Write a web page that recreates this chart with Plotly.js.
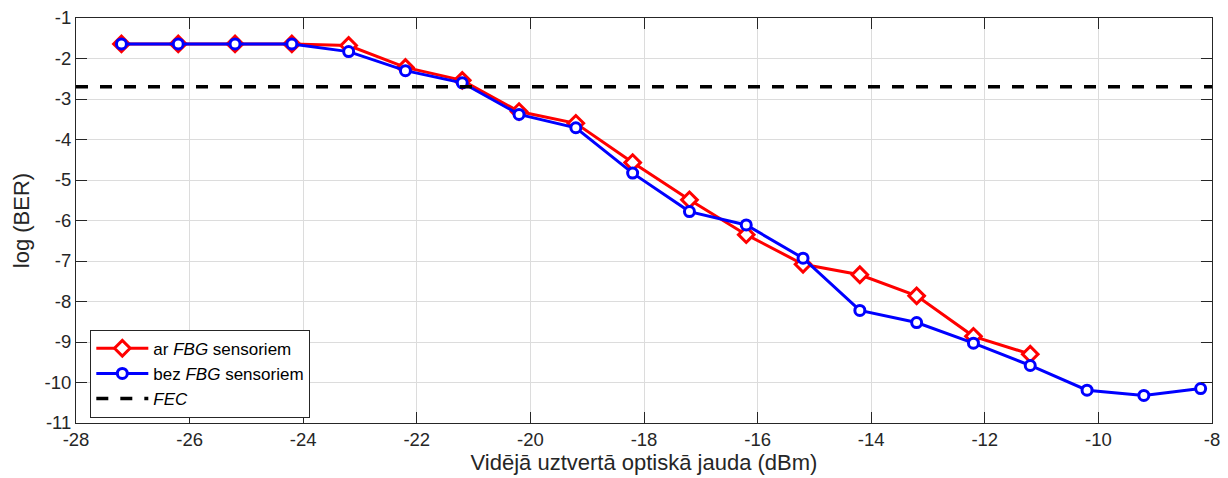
<!DOCTYPE html>
<html><head><meta charset="utf-8">
<script src="https://cdn.plot.ly/plotly-3.0.1.min.js"></script>
<style>html,body{margin:0;padding:0;background:#fff}#chart{width:1228px;height:478px}</style>
</head><body><div id="chart"></div>
<script>
const xArFBG = [-27.2,-26.2,-25.2,-24.2,-23.2,-22.2,-21.2,-20.2,-19.2,-18.2,-17.2,-16.2,-15.2,-14.2,-13.2,-12.2,-11.2];
const yArFBG = [-1.64,-1.64,-1.64,-1.64,-1.68,-2.22,-2.54,-3.31,-3.6,-4.57,-5.49,-6.35,-7.08,-7.34,-7.86,-8.86,-9.3];
const xBezFBG = [-27.2,-26.2,-25.2,-24.2,-23.2,-22.2,-21.2,-20.2,-19.2,-18.2,-17.2,-16.2,-15.2,-14.2,-13.2,-12.2,-11.2,-10.2,-9.2,-8.2];
const yBezFBG = [-1.64,-1.64,-1.64,-1.64,-1.83,-2.3,-2.6,-3.38,-3.71,-4.83,-5.78,-6.11,-6.93,-8.22,-8.52,-9.03,-9.58,-10.19,-10.32,-10.15];
const xFEC = [-28,-8];
const yFEC = [-2.7,-2.7];
const seriesNames = ['ar <i>FBG</i> sensoriem','bez <i>FBG</i> sensoriem','<i>FEC</i>'];
const xTicks = [-28,-26,-24,-22,-20,-18,-16,-14,-12,-10,-8];
const yTicks = [-11,-10,-9,-8,-7,-6,-5,-4,-3,-2,-1];

const font = {family:'Arial, "Liberation Sans", sans-serif', color:'#262626'};
const traces = [
  {x:xArFBG, y:yArFBG, name:seriesNames[0], mode:'lines+markers', type:'scatter',
   line:{color:'#ff0000', width:3},
   marker:{symbol:'diamond', size:12, color:'#ffffff', line:{color:'#ff0000', width:3}}},
  {x:xBezFBG, y:yBezFBG, name:seriesNames[1], mode:'lines+markers', type:'scatter',
   line:{color:'#0000ff', width:3},
   marker:{symbol:'circle', size:10, color:'#ffffff', line:{color:'#0000ff', width:3}}},
  {x:xFEC, y:yFEC, name:seriesNames[2], mode:'lines', type:'scatter',
   line:{color:'#000000', width:3.5, dash:'12px,12px'}}
];
const axisCommon = {showline:true, linecolor:'#262626', linewidth:1, mirror:'ticks',
  ticks:'inside', ticklen:11, tickcolor:'#262626', tickwidth:1,
  showgrid:true, gridcolor:'#dcdcdc', gridwidth:1, zeroline:false,
  tickfont:Object.assign({size:18.5}, font)};
const layout = {
  width:1228, height:478, paper_bgcolor:'#ffffff', plot_bgcolor:'#ffffff',
  margin:{l:76, r:16, t:18, b:55},
  showlegend:true,
  xaxis:Object.assign({}, axisCommon, {range:[-28,-8], tickvals:xTicks, ticktext:xTicks.map(String),
    title:{text:'Vidējā uztvertā optiskā jauda (dBm)', font:Object.assign({size:22}, font), standoff:4}}),
  yaxis:Object.assign({}, axisCommon, {range:[-11,-1], tickvals:yTicks, ticktext:yTicks.map(String),
    title:{text:'log (BER)', font:Object.assign({size:22}, font), standoff:8}}),
  legend:{x:0.0126, y:0.013, xanchor:'left', yanchor:'bottom', bgcolor:'#ffffff',
    bordercolor:'#262626', borderwidth:1, font:Object.assign({size:17}, {family:font.family, color:'#000'}),
    itemwidth:52, tracegroupgap:0, entrywidth:268, entrywidthmode:'pixels'}
};
Plotly.newPlot('chart', traces, layout, {displayModeBar:false, staticPlot:true});
</script></body></html>
